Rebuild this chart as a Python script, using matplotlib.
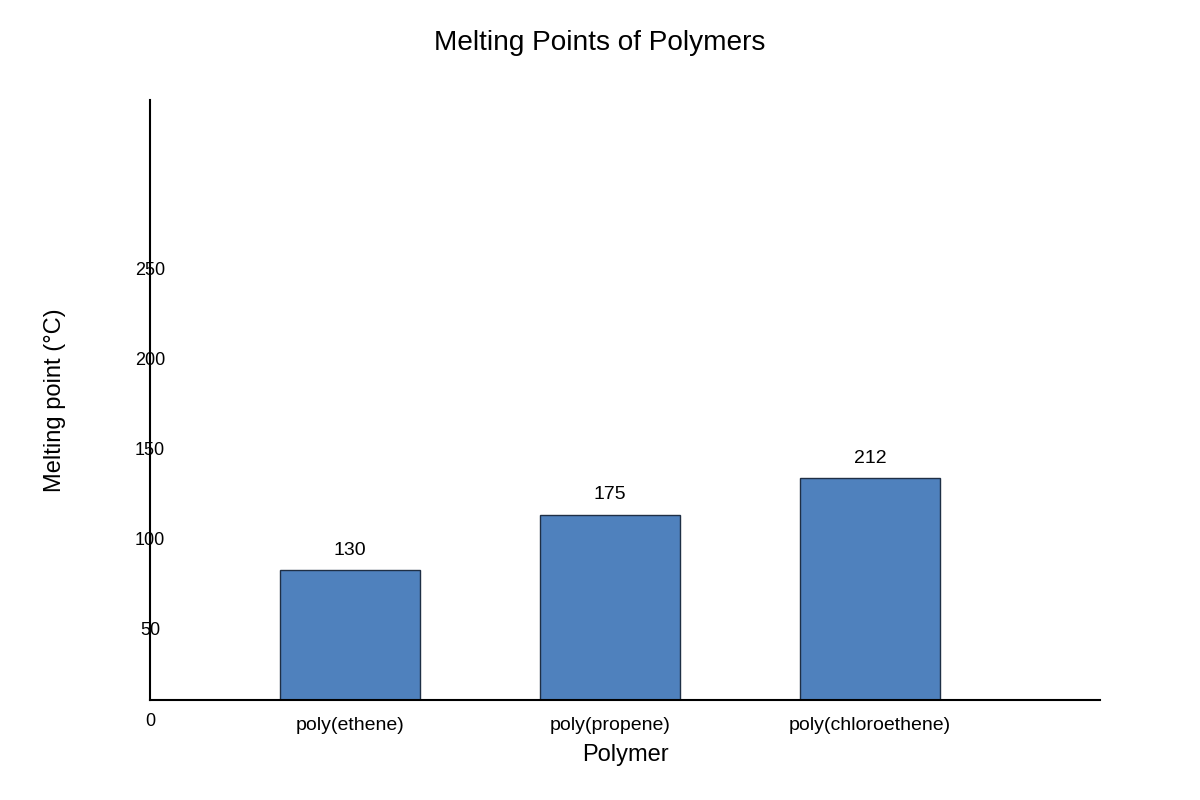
import matplotlib
matplotlib.use("Agg")
import matplotlib.pyplot as plt
import matplotlib.transforms as mtransforms

# ---- data ----
polymers = ["poly(ethene)", "poly(propene)", "poly(chloroethene)"]
melting_points = [130, 175, 212]          # printed value labels
bar_heights = [72.2, 102.8, 123.3]        # bar lengths as drawn, read against the axis
y_ticks = [0, 50, 100, 150, 200, 250]

plt.rcParams["font.family"] = ["Liberation Sans", "DejaVu Sans"]

fig = plt.figure(figsize=(12, 8), dpi=100)
ax = fig.add_axes([150 / 1200, 100 / 800, 950 / 1200, 600 / 800])

x = list(range(len(polymers)))
bars = ax.bar(x, bar_heights, width=0.538, color="#4F81BD",
              edgecolor="#1F2F45", linewidth=1.0, zorder=2)

ax.set_xlim(-0.769, 2.885)
ax.set_ylim(0, 333.33)

for b, v in zip(bars, melting_points):
    ax.annotate(str(v), (b.get_x() + b.get_width() / 2, b.get_height()),
                xytext=(0, 14.4), textcoords="offset points",
                ha="center", va="center", fontsize=14)

# spines
for s in ["top", "right"]:
    ax.spines[s].set_visible(False)
for s in ["left", "bottom"]:
    ax.spines[s].set_linewidth(1.5)
    ax.spines[s].set_color("black")

ax.set_xticks(x)
ax.set_xticklabels(polymers, fontsize=14)
ax.tick_params(axis="x", length=0, pad=12.3)

# y tick labels centered on the axis line, shifted down
ax.set_yticks([])
off = mtransforms.ScaledTranslation(0, -21 / 100, fig.dpi_scale_trans)
trans = mtransforms.blended_transform_factory(ax.transAxes, ax.transData) + off
for t in y_ticks:
    ax.text(0, t, str(t), transform=trans, ha="center", va="center",
            fontsize=13, clip_on=False, zorder=3)

ax.set_xlabel("Polymer", fontsize=17, va="center")
ax.xaxis.set_label_coords(0.5, -55 / 600)
ax.set_ylabel("Melting point (°C)", fontsize=17, va="center")
ax.yaxis.set_label_coords(-95 / 950, 0.5)

fig.suptitle("Melting Points of Polymers", x=0.5, y=1 - 43 / 800,
             va="center", fontsize=20.2)

fig.savefig("out.png", dpi=100)
